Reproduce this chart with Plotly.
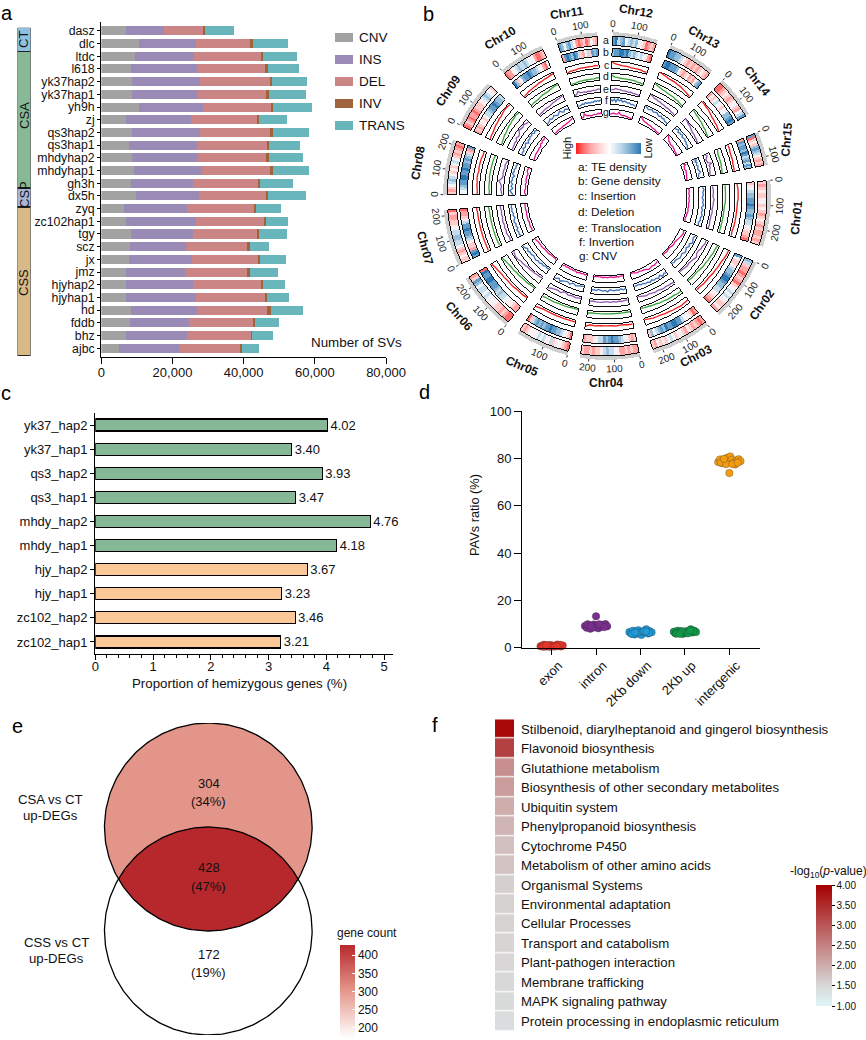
import numpy as np
import plotly.graph_objects as go

W, H = 866, 1040
FONT = "Liberation Sans, Arial, sans-serif"

# ---------- panel a ----------
SV_SAMPLES = ["dasz","dlc","ltdc","l618","yk37hap2","yk37hap1","yh9h","zj","qs3hap2","qs3hap1","mhdyhap2","mhdyhap1","gh3h","dx5h","zyq","zc102hap1","tgy","scz","jx","jmz","hjyhap2","hjyhap1","hd","fddb","bhz","ajbc"]
SV_CNV = [6840,10590,9460,8240,8520,8520,10590,6930,8520,7780,8620,9180,8340,9740,6370,6930,8240,7960,7780,6930,6930,6930,8340,8060,6930,4870]
SV_INS = [10760,15910,16490,18660,19210,18740,18080,18270,19210,19110,18550,19110,17420,17710,17700,19580,17520,15830,17790,16580,18830,19580,18550,16580,17140,16960]
SV_DEL = [10970,15560,19200,19380,19670,19300,19290,18830,19950,19860,19390,19390,18550,19110,18830,19490,18270,17150,18740,17710,19200,19490,19670,17980,18080,17140]
SV_INV = [560,540,280,560,560,560,380,270,560,370,560,560,280,280,570,280,280,750,280,560,470,560,1120,570,190,560]
SV_TRANS = [8150,9950,9470,8800,9840,10400,10860,7970,10120,8710,9550,10120,9270,10680,7020,6270,7770,5520,7210,7870,6180,6180,8990,6740,6000,4780]
SV_TYPES = ["CNV","INS","DEL","INV","TRANS"]
SV_COLORS = ["#a3a2a3","#9a8ab6","#cc8585","#a0643c","#68b5bc"]
STRIP_GROUPS = ["CT","CSA","CSP","CSS"]
STRIP_SIZES = [1.85,10.8,1.5,11.75]
STRIP_COLORS = ["#8fc0dd","#87b996","#a9b6d8","#d8b987"]

# ---------- panel b ----------
CHR_NAMES = ["Chr%02d" % i for i in range(1, 16)]
CHR_START = [-5.5,24,52,78.4,104,128,155,180.5,205.8,230,252,272,293,315,337]
CHR_END = [18,46.5,73.4,99.5,123,149.6,175,200,223.5,246.4,266.5,288,310,330,349]
CHR_LEN = [265,250,238,235,212,240,222,217,197,182,161,178,189,167,133]
CHR_TICKS = [[0,100,200],[0,100,200],[0,100,200],[0,100,200],[0,100],[0,100,200],[0,100,200],[0,100,200],[0,100],[0,100],[0,100],[0,100],[0,100],[0,100],[0,100]]
# heat levels: 0 = high (red), 9 = low (blue)
TE_DENSITY = [
 [3,2,3,4,3,3,4,5,3,4,3,2,3,4,3,2,3,2,2,3,2,3],
 [7,6,3,2,2,1,2,3,2,1,3,4,5,6,5,6,5,4,3,3,4,2],
 [2,1,2,3,2,3,4,2,3,5,4,3,5,6,5,3,4,3,4,2,3],
 [2,2,3,2,3,2,2,4,5,6,6,7,6,4,3,3,2,3,2,2,3],
 [1,2,3,4,5,4,3,6,5,4,6,5,6,5,4,5,4,3,2,3],
 [1,1,2,3,2,3,3,4,5,4,5,6,5,6,6,5,7,8,3,2],
 [3,3,4,3,2,3,5,6,6,7,7,6,6,5,4,3,3,2,2,3,1],
 [3,2,3,5,6,7,6,5,3,4,3,5,6,5,3,2,3,2,1,2],
 [1,2,3,2,1,2,2,1,2,3,3,3,4,5,6,7,6,5,4,3],
 [1,2,2,4,5,6,7,6,6,7,6,5,5,4,2,1,1,2,3],
 [8,7,5,7,8,6,4,2,1,2,3,1,2,5,3,2],
 [8,9,6,7,8,5,6,7,6,7,5,4,3,1,2,3,2],
 [9,8,8,7,7,6,4,3,2,3,2,3,2,3,4,3,2],
 [1,1,2,3,4,3,2,3,4,5,3,2,5,6,8],
 [8,1,3,4,3,7,8,7,6,4,3,2,3,2],
]
GENE_DENSITY = [
 [3,4,5,6,7,7,8,8,9,8,7,7,8,7,6,6,5,4,3,3,2,1],
 [8,5,3,3,4,6,7,7,8,9,9,8,7,7,6,6,4,4,3,2,1],
 [2,1,3,4,5,5,6,8,8,9,9,8,8,9,7,8,7,6,5,7,3],
 [3,2,3,4,5,6,7,8,8,9,8,7,8,6,6,5,4,3,3,3,2],
 [1,3,4,5,6,7,7,8,8,9,8,8,7,8,7,8,7,6,3,1],
 [2,2,3,4,4,5,5,6,6,7,6,7,8,8,8,9,9,8,8,9,1],
 [8,9,8,2,3,3,4,6,7,8,8,9,8,8,6,4,3,2,2,1],
 [5,5,6,7,8,8,9,9,8,8,9,8,8,7,8,7,6,3,2,8],
 [2,3,2,3,4,4,3,5,6,6,7,8,8,9,8,7,7,6],
 [9,7,3,5,7,8,8,9,8,7,7,6,5,4,2,1,5],
 [2,8,9,8,7,9,8,6,3,2,5,6,3,8,7,8],
 [7,8,8,9,9,8,9,7,6,7,6,5,6,5,4,2,1],
 [8,9,9,8,8,8,7,5,3,2,3,4,2,3,2,4,7,8],
 [2,4,3,4,6,5,4,3,5,5,7,7,8,9,8],
 [2,8,7,8,8,7,9,8,6,7,8,6,8,7],
]
# line levels: 0 = inner edge of the ring, 9 = outer edge
INSERTION = [
 [3,4,4,4,3,3,3,3,3,3,2,3],[7,7,6,5,5,4,4,3,3,3,2,2],[5,5,6,5,5,4,4,3,3,3,2,1],
 [3,3,2,2,3,2,2,2,2,3,2,5],[2,2,2,2,2,2,2,2,2,2,3,4],[1,2,2,2,3,3,3,4,4,5,6,8],
 [3,3,3,3,3,3,3,3,3,3,3,4],[2,2,3,3,4,4,3,4,4,4,3,3],[2,3,3,4,5,5,6,6,7,8,8,7],
 [1,2,3,3,4,4,5,5,6,6,7,8],[1,2,2,2,3,3,3,3,3,3,4,3],[8,6,5,4,4,4,3,3,3,3,2,2],
 [9,8,7,6,6,6,5,5,4,3,2,1],[8,8,7,7,6,5,4,4,3,3,2,1],[4,4,4,3,3,3,3,3,2,2,2,2],
]
DELETION = [
 [3,3,3,3,3,2,2,2,2,2,2,2],[7,6,6,5,5,4,4,3,2,2,2,1],[6,6,5,5,5,4,4,3,3,2,2,1],
 [2,2,2,2,2,2,2,2,2,2,2,3],[1,1,1,2,2,2,2,3,3,3,3,4],[1,1,2,2,2,3,3,4,4,5,6,8],
 [2,3,3,3,3,3,3,3,3,3,3,4],[2,2,3,3,3,4,4,4,4,4,4,3],[1,2,3,4,4,5,6,6,7,7,8,7],
 [2,3,3,3,4,5,5,5,6,7,8,8],[1,1,1,2,2,2,2,2,2,2,3,3],[7,4,4,3,3,3,3,3,3,2,2,1],
 [9,7,6,5,5,4,4,4,3,3,2,1],[8,7,6,6,5,5,4,3,3,2,1,1],[5,4,3,3,3,3,3,3,2,2,2,1],
]
TRANSLOCATION = [
 [2,3,3,2,4,3,3,2,3,2,2,2,3,2],[6,7,5,5,3,3,6,4,3,2,3,2,1,1],[7,6,6,5,6,5,4,5,4,3,4,3,2,1],
 [2,2,3,2,3,2,3,2,2,3,3,3,2,3],[2,2,3,2,2,3,1,1,4,3,3,4,5,7],[0,1,1,2,2,3,3,4,5,5,7,8,7,6],
 [3,2,3,4,3,4,3,4,4,3,4,3,4,4],[1,2,3,2,4,7,3,2,3,3,2,3,2,1],[1,2,2,3,2,5,3,4,8,7,6,8,6,5],
 [1,2,2,3,3,3,3,4,5,5,6,6,7,8],[1,2,6,3,3,3,2,3,2,3,3,3,4,4],[3,3,5,4,4,3,3,3,2,3,2,2,2,1],
 [9,8,6,6,5,5,4,4,3,3,3,2,2,1],[9,8,7,6,6,5,4,3,3,3,2,2,1,1],[3,5,3,1,2,2,8,3,4,3,2,2,1,1],
]
INVERSION = [
 [5,7,5,6,4,6,5,7,4,6,5,7,5,6,4,5],[7,5,6,8,4,6,3,5,6,3,4,5,3,2,3,1],[7,5,8,4,7,5,6,4,6,4,5,3,4,2,3,3],
 [3,4,2,4,3,4,3,2,5,3,4,3,2,4,3,4],[1,2,2,3,4,2,2,5,3,3,4,5,7,4,6,7],[1,2,1,3,2,4,3,5,4,3,5,4,6,4,7,8],
 [3,5,4,6,3,5,4,6,5,3,5,4,6,5,6,5],[2,5,7,3,6,4,7,5,6,3,7,5,6,4,5,3],[2,4,3,6,4,5,7,3,6,5,7,6,8,5,7,5],
 [1,2,3,5,3,4,6,4,3,5,7,4,3,6,5,3],[3,2,3,4,3,5,3,4,3,4,3,5,4,5,4,6],[6,4,7,3,8,5,7,4,6,5,4,5,3,4,3,2],
 [8,7,5,6,7,5,6,7,5,4,6,4,5,3,3,2],[5,6,8,4,6,5,7,4,5,6,4,5,3,4,2,1],[2,6,3,5,4,3,5,4,3,4,5,6,3,2,2,1],
]
CNV_TRACK = [
 [2,3,2,3,2,3,2,3,2,3,2,2,1,2],[5,7,6,5,4,3,2,3,2,1,1,2,1,1],[3,4,5,4,5,6,4,3,3,2,3,2,1,1],
 [1,1,2,1,2,1,1,2,1,2,1,1,1,2],[1,2,1,2,1,3,1,2,1,2,1,2,1,3],[2,1,1,1,2,2,2,2,3,3,3,3,4,5],
 [3,2,3,3,2,3,3,3,3,2,3,3,3,3],[1,3,3,2,2,3,2,3,3,3,2,4,5,3],[1,2,2,3,3,3,3,4,3,6,5,7,6,8],
 [1,1,2,2,2,2,3,3,3,4,4,5,6,7],[2,2,7,4,3,3,2,2,3,3,3,4,3,5],[2,3,4,3,3,6,3,2,3,2,2,1,1,1],
 [9,7,5,4,4,3,3,3,2,2,2,1,1,1],[9,7,5,3,3,2,2,3,2,2,1,1,1,1],[3,6,3,3,2,3,4,3,3,3,2,2,2,1],
]
TRACK_LETTERS = ["a","b","c","d","e","f","g"]
TRACK_LEGEND = ["a: TE density","b: Gene density","c: Insertion","d: Deletion","e: Translocation","f: Invertion","g: CNV"]

# ---------- panel c ----------
HEMI_SAMPLES = ["yk37_hap2","yk37_hap1","qs3_hap2","qs3_hap1","mhdy_hap2","mhdy_hap1","hjy_hap2","hjy_hap1","zc102_hap2","zc102_hap1"]
HEMI_VALUES = [4.02,3.40,3.93,3.47,4.76,4.18,3.67,3.23,3.46,3.21]
HEMI_COLORS = ["#86b797"]*6 + ["#fdc897"]*4

# ---------- panel d ----------
PAV_CATS = ["exon","intron","2Kb down","2Kb up","intergenic"]
PAV_COLORS = ["#e6352b","#7a2f8e","#1e9ad6","#0f9a48","#f39c12"]
PAV_OFFSETS = [
 [-.25,-.21,-.17,-.13,-.09,-.05,-.02,.02,.05,.09,.13,.17,.21,.25,-.19,-.07,.07,.19,-.12,.12],
 [-.25,-.21,-.17,-.13,-.09,-.05,-.02,.02,.05,.09,.13,.17,.21,.25,-.19,-.07,.07,.19,-.12,0],
 [-.25,-.21,-.17,-.13,-.09,-.05,-.02,.02,.05,.09,.13,.17,.21,.25,-.19,-.07,.07,.19,-.12,.12],
 [-.25,-.21,-.17,-.13,-.09,-.05,-.02,.02,.05,.09,.13,.17,.21,.25,-.19,-.07,.07,.19,-.12,.12],
 [-.25,-.21,-.17,-.13,-.09,-.05,-.02,.02,.05,.09,.13,.17,.21,.25,-.19,-.07,.07,.19,-.12,0],
]
PAV_VALUES = [
 [0.6,0.9,1.2,0.5,0.8,0.4,1.1,0.7,0.5,0.9,1.3,0.8,0.5,0.9,0.4,1.0,0.6,1.2,1.0,0.6],
 [9.2,8.4,9.6,8.0,9.0,9.8,8.6,9.2,8.2,9.7,8.8,9.5,10.0,9.1,9.9,8.5,9.9,8.7,9.3,13.3],
 [6.6,6.0,7.2,5.6,6.8,7.4,6.2,5.4,6.6,7.0,7.8,6.0,7.0,6.5,5.8,6.4,7.0,6.2,6.4,6.9],
 [6.7,6.0,7.2,6.4,7.0,5.8,6.5,7.0,6.2,6.8,7.8,6.4,7.2,6.6,6.0,6.9,6.1,7.1,5.9,7.3],
 [78.5,79.5,78.0,79.0,77.8,80.2,78.8,80.8,79.4,78.0,77.4,79.2,79.6,78.8,78.2,77.6,77.6,78.2,79.8,73.8],
]

# ---------- panel e ----------
VENN_COUNTS = [304, 428, 172]
VENN_SHARES = ["(34%)", "(47%)", "(19%)"]
VENN_NAMES = [["CSA vs CT", "up-DEGs"], ["CSS vs CT", "up-DEGs"]]

# ---------- panel f ----------
KEGG_TERMS = ["Stilbenoid, diarylheptanoid and gingerol biosynthesis","Flavonoid biosynthesis","Glutathione metabolism","Biosynthesis of other secondary metabolites","Ubiquitin system","Phenylpropanoid biosynthesis","Cytochrome P450","Metabolism of other amino acids","Organismal Systems","Environmental adaptation","Cellular Processes","Transport and catabolism","Plant-pathogen interaction","Membrane trafficking","MAPK signaling pathway","Protein processing in endoplasmic reticulum"]
KEGG_LOGP = [3.9,3.25,2.35,2.2,2.0,1.9,1.78,1.73,1.6,1.58,1.56,1.55,1.52,1.5,1.45,1.42]


def px(x, y):
    return x / W, 1 - y / H


def dom_x(a, b):
    return [a / W, b / W]


def dom_y(top, bottom):
    return [1 - bottom / H, 1 - top / H]


annotations, shapes = [], []


def note(text, x, y, size=13, angle=0, anchor="center", bold=False, color="#111"):
    xx, yy = px(x, y)
    annotations.append(dict(text="<b>%s</b>" % text if bold else text, x=xx, y=yy, xref="paper", yref="paper",
                            showarrow=False, xanchor=anchor, yanchor="middle", textangle=angle,
                            font=dict(family=FONT, size=size, color=color), borderpad=0, borderwidth=0))


AX = dict(showgrid=False, zeroline=False, showline=True, linecolor="black", linewidth=1.4,
          ticks="outside", tickcolor="black", tickwidth=1.2, tickfont=dict(family=FONT, size=13, color="#111"))
HIDE = dict(visible=False, showgrid=False, zeroline=False, fixedrange=True)

fig = go.Figure()

# ---------- panel a ----------
sv_series = [SV_CNV, SV_INS, SV_DEL, SV_INV, SV_TRANS]
for name, vals, col in zip(SV_TYPES, sv_series, SV_COLORS):
    fig.add_trace(go.Bar(x=vals, y=SV_SAMPLES, orientation="h", name=name, marker=dict(color=col, line_width=0),
                         width=0.71, xaxis="x", yaxis="y", showlegend=False))
top = 0.0
for name, size, col in zip(STRIP_GROUPS, STRIP_SIZES, STRIP_COLORS):
    fig.add_trace(go.Bar(x=["g"], y=[size], base=[top], name=name, width=1, xaxis="x2", yaxis="y2", showlegend=False,
                         marker=dict(color=col, line=dict(color="#222", width=1.2))))
    top += size
for (lab, yy) in zip(STRIP_GROUPS, [40, 116, 195, 283]):
    note(lab, 24, yy, size=13, angle=-90)
for i, (name, col) in enumerate(zip(SV_TYPES, SV_COLORS)):
    y0 = 33 + i * 22
    x0, y_a = px(335, y0)
    x1, y_b = px(353, y0 + 9)
    shapes.append(dict(type="rect", xref="paper", yref="paper", x0=x0, x1=x1, y0=y_a, y1=y_b, fillcolor=col, line_width=0))
    note(name, 359, y0 + 4.5, size=13.5, anchor="left")
note("Number of SVs", 311, 343, size=13.4, anchor="left")

# ---------- panel c ----------
fig.add_trace(go.Bar(x=HEMI_VALUES, y=HEMI_SAMPLES, orientation="h", width=0.5, xaxis="x3", yaxis="y3", showlegend=False,
                     marker=dict(color=HEMI_COLORS, line=dict(color="black", width=1.2)),
                     text=["%.2f" % v for v in HEMI_VALUES], textposition="outside", cliponaxis=False, constraintext="none",
                     textfont=dict(family=FONT, size=13, color="#111")))
note("Proportion of hemizygous genes (%)", 239, 683, size=13.3)

# ---------- panel d ----------
for i, (cat, col) in enumerate(zip(PAV_CATS, PAV_COLORS)):
    fig.add_trace(go.Scatter(x=[i + o for o in PAV_OFFSETS[i]], y=PAV_VALUES[i], mode="markers", name=cat, showlegend=False,
                             xaxis="x4", yaxis="y4", cliponaxis=False,
                             marker=dict(size=7.5, color=col, line=dict(color="rgba(40,40,40,.55)", width=0.5))))
note("PAVs ratio (%)", 474, 515, size=12.8, angle=-90)

# ---------- panel e ----------
t = np.linspace(0, 2 * np.pi, 241)
cx, cy = np.cos(t), np.sin(t)
lens_half = np.arcsin(np.sqrt(1 - .25))  # half-angle of the lens between two unit circles 1 apart
arc_top = np.linspace(-np.pi / 2 - lens_half, -np.pi / 2 + lens_half, 121)
arc_bot = arc_top + np.pi
lens_x = np.r_[np.cos(arc_top), np.cos(arc_bot)]
lens_y = np.r_[0.5 + np.sin(arc_top), -0.5 + np.sin(arc_bot)]
VENN_HIGH, VENN_MID = "#b7282c", "#e49589"
fig.add_trace(go.Scatter(x=cx, y=0.5 + cy, mode="lines", fill="toself", fillcolor=VENN_MID, line=dict(width=0), xaxis="x5", yaxis="y5", showlegend=False))
fig.add_trace(go.Scatter(x=lens_x, y=lens_y, mode="lines", fill="toself", fillcolor=VENN_HIGH, line=dict(width=0), xaxis="x5", yaxis="y5", showlegend=False))
for c0 in (0.5, -0.5):
    fig.add_trace(go.Scatter(x=cx, y=c0 + cy, mode="lines", line=dict(color="black", width=1.3), xaxis="x5", yaxis="y5", showlegend=False))
fig.add_trace(go.Scatter(
    x=[0, 0, 0], y=[1.0, 0, -1.0], mode="markers", xaxis="x5", yaxis="y5", showlegend=False,
    marker=dict(size=1, opacity=0, color=VENN_COUNTS, cmin=172, cmax=428,
                colorscale=[[0, "#ffffff"], [0.516, VENN_MID], [1, VENN_HIGH]],
                colorbar=dict(x=340 / W, xanchor="left", y=1 - 945 / H, yanchor="top", lenmode="pixels", len=93,
                              thicknessmode="pixels", thickness=15, xpad=0, ypad=0, outlinewidth=0,
                              tickvals=[200, 250, 300, 350, 400], ticks="inside", tickcolor="white", ticklen=3, tickwidth=1,
                              tickfont=dict(family=FONT, size=12, color="#111")))))
for val, share, y1, y2 in zip(VENN_COUNTS, VENN_SHARES, [783, 867, 954.5], [801.5, 886, 972.5]):
    note(str(val), 208.5, y1, size=13)
    note(share, 208.5, y2, size=13)
for lines, xx, ys in zip(VENN_NAMES, [50, 56], [(799.5, 815.5), (942, 958)]):
    note(lines[0], xx, ys[0], size=13.2)
    note(lines[1], xx, ys[1], size=13.2)
note("gene count", 367, 933, size=12)

# ---------- panel f ----------
fig.add_trace(go.Heatmap(z=[[v] for v in KEGG_LOGP], x=[0], y=KEGG_TERMS, xaxis="x6", yaxis="y6", ygap=1.2, zmin=1, zmax=4,
                         colorscale=[[0, "#e0f5f7"], [1 / 6, "#d8d8d8"], [1, "#a50000"]],
                         colorbar=dict(x=816 / W, xanchor="left", y=1 - 885 / H, yanchor="top", lenmode="pixels", len=121,
                                       thicknessmode="pixels", thickness=16, xpad=0, ypad=0, outlinewidth=0,
                                       tickvals=[1, 1.5, 2, 2.5, 3, 3.5, 4], ticktext=["1.00", "1.50", "2.00", "2.50", "3.00", "3.50", "4.00"],
                                       ticks="outside", ticklen=3, tickwidth=1, tickcolor="black",
                                       tickfont=dict(family=FONT, size=10, color="#111"))))
note("-log<sub>10</sub>(<i>p</i>-value)", 828, 872, size=12)

# ---------- panel b ----------
RINGS = {"a": (151, 160), "b": (140, 148), "c": (128, 135), "d": (116, 123), "e": (104, 111), "f": (92, 99), "g": (80, 87)}
BAND = (160, 164)
CX, CY, RMAX = 607, 196, 172


def cells(series, ring):
    th, wd = [], []
    col = []
    base = []
    rr = []
    for s, e, vals in zip(CHR_START, CHR_END, series):
        step = (e - s) / len(vals)
        for i, v in enumerate(vals):
            th.append(s + (i + .5) * step)
            wd.append(step * 1.04)
            col.append(v)
            base.append(RINGS[ring][0])
            rr.append(RINGS[ring][1] - RINGS[ring][0])
    return th, wd, col, base, rr


h1, h2 = cells(TE_DENSITY, "a"), cells(GENE_DENSITY, "b")
HEAT_SCALE = [[0, "#fb1c1c"], [.111, "#ff6a6a"], [.222, "#ffa3a3"], [.333, "#ffcbcb"], [.444, "#ffecec"], [.52, "#ffffff"],
              [.556, "#eef4f9"], [.667, "#c6dceb"], [.778, "#95bedb"], [.889, "#619ccb"], [1, "#2b78b4"]]
fig.add_trace(go.Barpolar(
    theta=h1[0] + h2[0], width=h1[1] + h2[1], base=h1[3] + h2[3], r=h1[4] + h2[4], subplot="polar", showlegend=False,
    marker=dict(color=h1[2] + h2[2], cmin=0, cmax=9, line_width=0, colorscale=HEAT_SCALE, showscale=True,
                colorbar=dict(orientation="h", x=608.3 / W, xanchor="center", y=1 - 154 / H, yanchor="bottom",
                              lenmode="pixels", len=64.7, thicknessmode="pixels", thickness=10.7, xpad=0, ypad=0,
                              outlinewidth=0, ticks="", showticklabels=False))))
mid = [(s + e) / 2 for s, e in zip(CHR_START, CHR_END)]
span = [e - s for s, e in zip(CHR_START, CHR_END)]
fig.add_trace(go.Barpolar(theta=mid, width=span, base=[BAND[0]] * 15, r=[BAND[1] - BAND[0]] * 15, subplot="polar", showlegend=False,
                          marker=dict(color="#cfcfcf", line_width=0)))
frame_t, frame_w, frame_b, frame_r = [], [], [], []
for k, (r0, r1) in RINGS.items():
    frame_t += mid
    frame_w += span
    frame_b += [r0] * 15
    frame_r += [r1 - r0] * 15
fig.add_trace(go.Barpolar(theta=frame_t, width=frame_w, base=frame_b, r=frame_r, subplot="polar", showlegend=False,
                          marker=dict(color="rgba(0,0,0,0)", line=dict(color="black", width=0.95))))
TRACK_LINES = [("c", INSERTION, "#f01818"), ("d", DELETION, "#37a037"), ("e", TRANSLOCATION, "#9257ad"), ("f", INVERSION, "#3d72b8"), ("g", CNV_TRACK, "#e0148c")]
for ring, series, col in TRACK_LINES:
    th, rr = [], []
    r0, r1 = RINGS[ring]
    for s, e, vals in zip(CHR_START, CHR_END, series):
        step = (e - s - 0.6) / (len(vals) - 1)
        th += [s + 0.3 + i * step for i in range(len(vals))] + [None]
        rr += [r0 + 0.5 + v / 9 * (r1 - r0 - 1) for v in vals] + [None]
    fig.add_trace(go.Scatterpolar(theta=th, r=rr, mode="lines", subplot="polar", showlegend=False,
                                  line=dict(color=col, width=1.3), connectgaps=False))
tick_t, tick_r = [], []
for s, e, ln, ticks in zip(CHR_START, CHR_END, CHR_LEN, CHR_TICKS):
    for tk in ticks:
        ang = s + tk / ln * (e - s)
        tick_t += [ang, ang, None]
        tick_r += [BAND[1], BAND[1] + 2.5, None]
        a = np.radians(ang)
        lx, ly = CX + 172.5 * np.cos(a), CY + 172.5 * np.sin(a)
        rot = ang - 90 if -8 < ang < 180 else ang + 90
        rot = (rot + 180) % 360 - 180
        note(str(tk), lx, ly, size=10, angle=rot, color="#222")
fig.add_trace(go.Scatterpolar(theta=tick_t, r=tick_r, mode="lines", subplot="polar", showlegend=False, line=dict(color="black", width=0.8)))
CHR_LABEL_POS = [(796.7,218.3),(761.7,305),(696,356),(606,382.7),(521.7,365.7),(459,316),(425,248),(418,163),(448,90.7),(500,37.7),(566.7,12.7),(636,11),(704,36.7),(757,81),(786.7,140)]
CHR_LABEL_ROT = [-84,-55,-28,0,23,49,75,-80,-56,-30,-8,10,30,52,-85]
for name, (xx, yy), rot in zip(CHR_NAMES, CHR_LABEL_POS, CHR_LABEL_ROT):
    note(name, xx, yy, size=12, angle=rot, bold=True)
for lt in TRACK_LETTERS:
    note(lt, 606, CY - sum(RINGS[lt]) / 2, size=10.5)
for txt, xx, yy in zip(TRACK_LEGEND, [577.7] * 5 + [579.3, 579.3], [167.3, 181, 196.3, 212, 227.7, 242.3, 256]):
    note(txt, xx, yy, size=11.8, anchor="left")
note("High", 566, 148.5, size=11, angle=-90)
note("Low", 647, 148.5, size=11, angle=-90)

for lab, xx, yy in [("a", 7.5, 13), ("b", 428, 14), ("c", 6, 393), ("d", 424, 392), ("e", 17.5, 726), ("f", 435, 725)]:
    note(lab, xx, yy, size=20, color="black")

layout = dict(
    width=W, height=H, margin=dict(l=0, r=0, t=0, b=0, autoexpand=False), paper_bgcolor="white", plot_bgcolor="white",
    barmode="stack", showlegend=False, font=dict(family=FONT, size=12, color="#111"),
    annotations=annotations, shapes=shapes,
    # panel a
    xaxis=dict(AX, domain=dom_x(101.3, 386), range=[0, 80000], anchor="y", tickvals=[0, 20000, 40000, 60000, 80000],
               tickformat=",", ticklen=6, ticklabelstandoff=-3, fixedrange=True),
    yaxis=dict(AX, domain=dom_y(22, 357), range=[-0.69, 25.7], anchor="x", type="category", categoryorder="array",
               categoryarray=SV_SAMPLES[::-1], tickmode="array", tickvals=SV_SAMPLES, ticklen=3, tickfont=dict(family=FONT, size=12.3, color="#111")),
    xaxis2=dict(HIDE, domain=dom_x(17.5, 30.5), anchor="y2"),
    yaxis2=dict(HIDE, domain=dom_y(27.7, 356), range=[sum(STRIP_SIZES), 0], anchor="x2"),
    # panel c
    xaxis3=dict(AX, domain=dom_x(95.3, 393.3), range=[0, 5.16], anchor="y3", tickvals=[0, 1, 2, 3, 4, 5], ticklen=5, ticklabelstandoff=-5,
                minor=dict(dtick=0.2, ticks="outside", ticklen=2.5, tickcolor="black", tickwidth=1)),
    yaxis3=dict(AX, domain=dom_y(413, 654), range=[-0.5, 9.5], anchor="x3", type="category", categoryorder="array",
                categoryarray=HEMI_SAMPLES[::-1], tickmode="array", tickvals=HEMI_SAMPLES, ticklen=4),
    # panel d
    xaxis4=dict(AX, domain=dom_x(522.3, 760), range=[-0.66, 4.69], anchor="y4", tickmode="array", tickvals=list(range(5)),
                ticktext=PAV_CATS, tickangle=-45, ticklen=6, ticklabelstandoff=-2, ticklabelshift=7),
    yaxis4=dict(AX, domain=dom_y(411, 647.7), range=[0, 100], anchor="x4", tickvals=[0, 20, 40, 60, 80, 100], ticklen=7),
    # panel e
    xaxis5=dict(HIDE, domain=dom_x(99.3, 317.3), range=[-1.05, 1.05], anchor="y5"),
    yaxis5=dict(HIDE, domain=dom_y(723, 1035), range=[-1.5, 1.5], anchor="x5"),
    # panel f
    xaxis6=dict(HIDE, domain=dom_x(495, 514), range=[-0.5, 0.5], anchor="y6"),
    yaxis6=dict(showgrid=False, zeroline=False, showline=False, ticks="", domain=dom_y(719.3, 1031), anchor="x6", side="right",
                type="category", categoryorder="array", categoryarray=KEGG_TERMS[::-1], tickmode="array", tickvals=KEGG_TERMS,
                ticklabelstandoff=6, tickfont=dict(family=FONT, size=13.2, color="#111")),
    polar=dict(domain=dict(x=dom_x(CX - RMAX, CX + RMAX), y=dom_y(CY - RMAX, CY + RMAX)), bgcolor="rgba(0,0,0,0)", barmode="overlay",
               radialaxis=dict(visible=False, range=[0, RMAX], showgrid=False),
               angularaxis=dict(visible=False, rotation=0, direction="clockwise", showgrid=False)),
)
fig.update_layout(**layout)
fig.write_html("out.html", config={"displayModeBar": False}, post_script="document.body.style.margin='0';document.body.style.overflow='hidden';")
